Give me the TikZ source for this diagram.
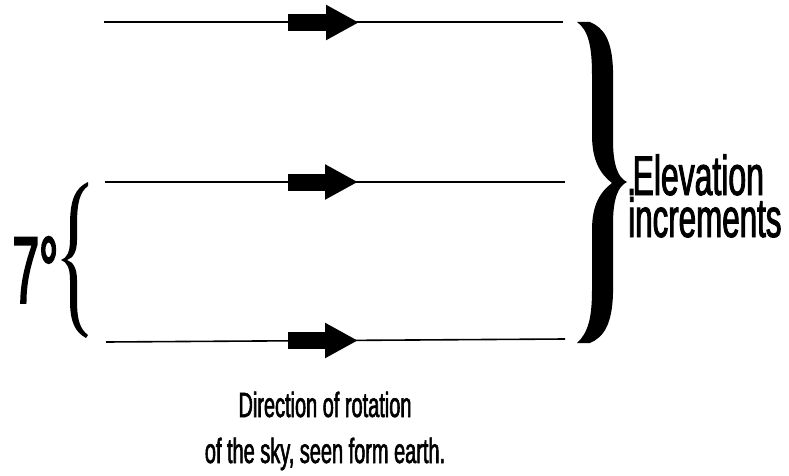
\documentclass[tikz,border=0pt]{standalone}
\usepackage{fontspec}
\setmainfont{Liberation Sans}
\newfontfamily\narrowsans[FakeStretch=0.57, FakeBold=1.6]{Liberation Sans}
\newfontfamily\degreesans[FakeStretch=0.5, FakeBold=2]{Liberation Sans}
\usetikzlibrary{arrows.meta, positioning}

\begin{document}
\begin{tikzpicture}[x=1pt, y=-1pt,
    skyline/.style={line width=1.6pt},
    rotarrow/.style={line width=17pt, -{Triangle[length=33pt, width=33pt]}},
    caption/.style={inner sep=0pt, anchor=base, font=\narrowsans\fontsize{35}{42}\selectfont},
    bigtext/.style={inner sep=0pt, anchor=base west, font=\narrowsans\fontsize{56}{60}\selectfont}]
    \useasboundingbox (0,0) rectangle (789,476);

    % Elevation lines
    \coordinate (top west) at (104,22);
    \coordinate (top east) at (563,22);
    \coordinate (mid west) at (105,182);
    \coordinate (mid east) at (565,182);
    \coordinate (low west) at (106,342);
    \coordinate (low east) at (565,339);
    \draw[skyline] (top west) -- (top east);
    \draw[skyline] (mid west) -- (mid east);
    \draw[skyline] (low west) -- (low east);

    % Direction arrows
    \coordinate (top tail) at (288,22.5);
    \coordinate (top tip) at (359,22.5);
    \coordinate (mid tail) at (288,182);
    \coordinate (mid tip) at (358,182);
    \coordinate (low tail) at (288,340.5);
    \coordinate (low tip) at (358,340.5);
    \draw[rotarrow] (top tail) -- (top tip);
    \draw[rotarrow] (mid tail) -- (mid tip);
    \draw[rotarrow] (low tail) -- (low tip);

    % Big right brace
    \fill (577,22) -- (590,22)
        .. controls (604,28) and (612,40) .. (613,70) -- (613,140)
        .. controls (613,165) and (618,178) .. (627,182)
        .. controls (618,186) and (613,199) .. (613,224) -- (613,294)
        .. controls (612,324) and (604,337) .. (590,343) -- (577,343)
        .. controls (588,333) and (592,318) .. (592,290) -- (592,230)
        .. controls (592,205) and (600,192) .. (612,183)
        .. controls (600,174) and (592,160) .. (592,135) -- (592,75)
        .. controls (592,45) and (588,30) .. (577,22) -- cycle;

    % Small left brace
    \fill (88,182)
        .. controls (75,188) and (70,200) .. (70,225) -- (70,240)
        .. controls (70,252) and (67,258) .. (61,260)
        .. controls (67,262) and (70,268) .. (70,280) -- (70,300)
        .. controls (70,322) and (75,332) .. (86,338) -- (88,335)
        .. controls (80,329) and (77,320) .. (77,300) -- (77,280)
        .. controls (77,268) and (73,262) .. (67,260)
        .. controls (73,258) and (77,252) .. (77,240) -- (77,225)
        .. controls (77,202) and (80,192) .. (88,186) -- cycle;

    % Labels
    \node[inner sep=0pt, anchor=base west, font=\degreesans\fontsize{95}{100}\selectfont]
        (angle) at (12.5,303) {7°};
    \node[bigtext] (elev) at (627,195) {.\kern-3.5pt Elevation};
    \node[bigtext, font=\narrowsans\fontsize{55}{60}\selectfont] (incr) at (628,237) {increments};
    \node[caption] (rot1) at (325,417) {Direction of rotation};
    \node[caption] (rot2) at (325,463) {of the sky, seen form earth.};
\end{tikzpicture}
\end{document}
